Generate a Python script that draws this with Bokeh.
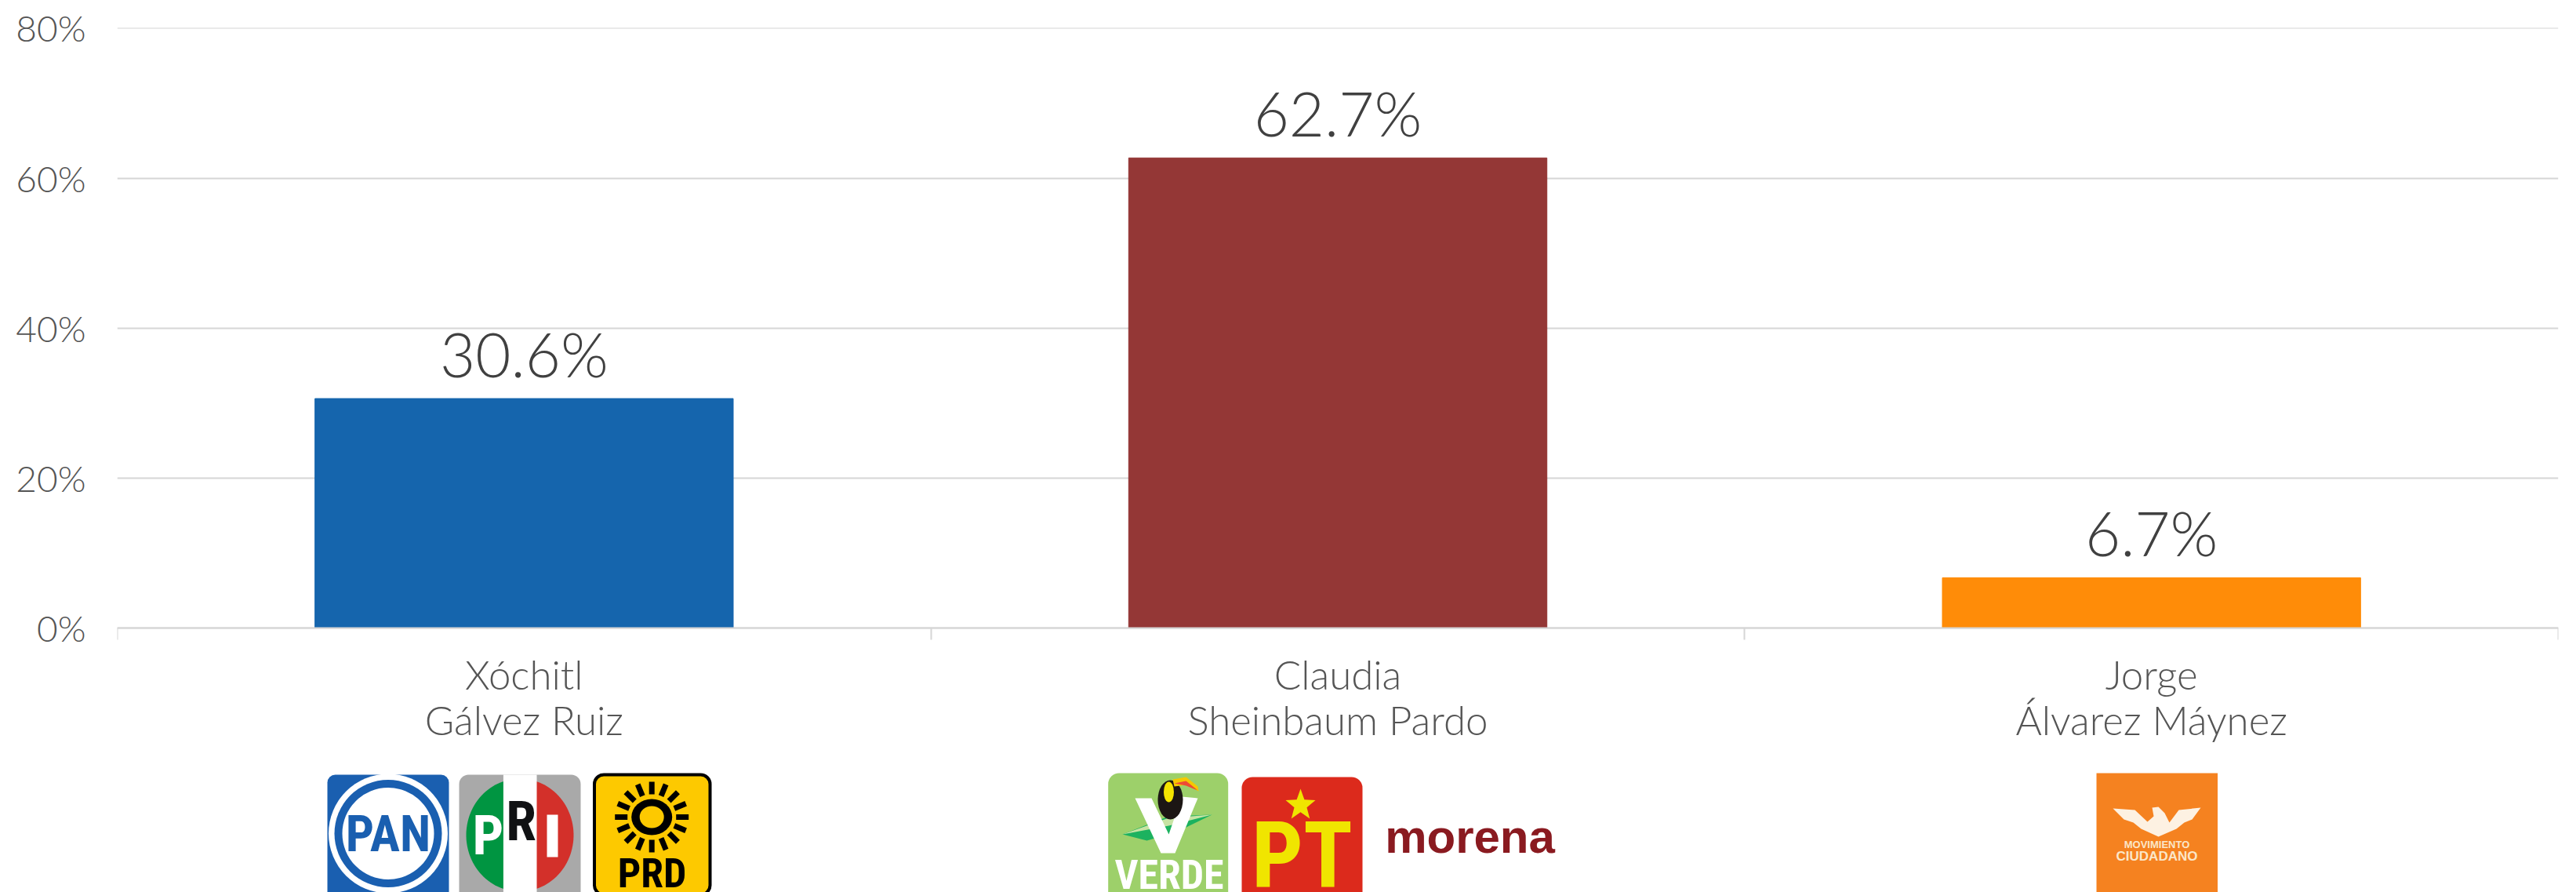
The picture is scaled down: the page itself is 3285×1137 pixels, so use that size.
import numpy as np
from bokeh.core.properties import value
from bokeh.embed import file_html
from bokeh.models import FixedTicker, Range1d
from bokeh.plotting import figure
from bokeh.resources import INLINE

candidates = ["Xóchitl\nGálvez Ruiz", "Claudia\nSheinbaum Pardo", "Jorge\nÁlvarez Máynez"]
shares = [30.6, 62.7, 6.7]
share_labels = ["30.6%", "62.7%", "6.7%"]
bar_colors = ["#1565ad", "#943736", "#ff8c08"]
y_ticks = [0, 20, 40, 60, 80]
y_tick_labels = {0: "0%", 20: "20%", 40: "40%", 60: "60%", 80: "80%"}

positions = [i + 0.5 for i in range(len(candidates))]
boundaries = list(range(len(candidates) + 1))

FONT = "Lato Light"
LOGO = "Liberation Sans"
COND = "Roboto Condensed"

p = figure(width=3285, height=1137, output_backend="svg", toolbar_location=None,
           x_range=Range1d(0, len(candidates)),
           y_range=Range1d(-35.27, 80.05),
           min_border_left=149, min_border_right=23, min_border_top=35, min_border_bottom=0,
           background_fill_color="white", border_fill_color="white", outline_line_color=None)
p.extra_x_ranges["px"] = Range1d(149, 3262)
p.extra_y_ranges["py"] = Range1d(1137, 35)

p.xgrid.visible = False
p.ygrid.ticker = FixedTicker(ticks=y_ticks)
p.ygrid.grid_line_color = "#d6d6d6"
p.ygrid.grid_line_width = 2

ya = p.yaxis[0]
ya.ticker = FixedTicker(ticks=y_ticks)
ya.major_label_overrides = y_tick_labels
ya.axis_line_color = None
ya.major_tick_line_color = None
ya.minor_tick_line_color = None
ya.major_label_standoff = 34
ya.major_label_text_font = FONT
ya.major_label_text_font_size = "46px"
ya.major_label_text_color = "#555555"

xa = p.xaxis[0]
xa.fixed_location = 0
xa.ticker = FixedTicker(ticks=positions, minor_ticks=boundaries)
xa.major_label_overrides = dict(zip(positions, candidates))
xa.axis_line_color = "#d6d6d6"
xa.axis_line_width = 2
xa.major_tick_line_color = None
xa.minor_tick_line_color = "#d6d6d6"
xa.minor_tick_line_width = 2
xa.minor_tick_in = 0
xa.minor_tick_out = 15
xa.major_label_standoff = 14
xa.major_label_text_font = FONT
xa.major_label_text_font_size = "51px"
xa.major_label_text_color = "#555555"
xa.major_label_text_line_height = 0.95
xa.major_label_orientation = "horizontal"

p.vbar(x=positions, top=shares, width=0.514, color=bar_colors)
p.text(x=positions, y=shares, text=share_labels, y_offset=-57, text_align="center",
       text_baseline="alphabetic", text_line_height=1.0, text_font=value(FONT), text_font_size="78px",
       text_color="#404040")

K = dict(x_range_name="px", y_range_name="py")


def box(l, r, t, b, color, radius=0, **kw):
    p.quad(left=[l], right=[r], top=[t], bottom=[b], fill_color=color, line_color=kw.pop("line", None),
           border_radius=radius, **K, **kw)


def oval(x, y, w, h, color, **kw):
    p.ellipse(x=[x], y=[y], width=[w], height=[h], fill_color=color, line_color=None, **K, **kw)


def poly(xs, ys, color):
    p.patch(x=list(xs), y=list(ys), fill_color=color, line_color=None, **K)


def label(x, y, s, size, color, font=COND):
    # y is the wanted baseline; the renderer sets alphabetic text about 0.37 em lower
    p.text(x=[x], y=[y - 0.37 * size], text=[s], text_align="center", text_baseline="alphabetic",
           text_line_height=1.0, text_font=value(font), text_font_style="bold", text_font_size=f"{size}px",
           text_color=color, **K)


# PAN
box(417, 572, 987, 1160, "#1a5fb0", 10)
oval(494.5, 1062, 152, 152, "white")
oval(494.5, 1062, 137, 137, "#1a5fb0")
oval(494.5, 1062, 117, 117, "white")
label(494.5, 1087, "PAN", 64, "#1a5fb0")

# PRI
box(585, 740, 987, 1160, "#a9a9a9", 12)
t = np.linspace(-np.pi / 2, np.pi / 2, 60)
poly(662.5 - 68.5 * np.cos(t), 1064 + 72 * np.sin(t), "#009541")
poly(662.5 + 68.5 * np.cos(t), 1064 + 72 * np.sin(t), "#d3302a")
box(641.4, 684, 987, 1160, "white")
label(622, 1090, "P", 70, "white")
label(664, 1072, "R", 70, "#111214")
box(697, 711, 1038, 1092, "white")

# PRD
box(757.5, 905, 987, 1140, "#fdc900", 12, line="black", line_width=4)
a = np.arange(16) * np.pi / 8
p.segment(x0=830.7 + 31 * np.cos(a), x1=830.7 + 47 * np.cos(a),
          y0=1041 + 29 * np.sin(a), y1=1041 + 45 * np.sin(a),
          line_color="black", line_width=7, **K)
oval(830.7, 1041, 52, 46, "black")
oval(830.7, 1041, 31, 28, "#fdc900")
label(831, 1132, "PRD", 52, "black")

# VERDE
box(1412.7, 1565.7, 985, 1160, "#9dd06a", 14)
poly([1431, 1490, 1545, 1500, 1462], [1063, 1040, 1038, 1060, 1071], "#1cb25f")
poly([1431, 1490, 1545, 1490], [1063, 1042, 1038, 1052], "#c7e3a3")
poly([1447, 1468, 1490, 1506.5, 1527, 1498, 1480], [1017, 1017, 1063, 1015, 1017, 1087, 1087], "white")
oval(1492, 1019, 32, 50, "#1c1614")
oval(1490, 1009, 13, 26, "#f5e400")
poly([1495, 1512, 1527, 1528, 1512, 1497], [993, 990, 1002, 1008, 1000, 1002], "#f5c800")
poly([1497, 1512, 1527, 1512], [998, 995, 1007, 1001], "#ee4b35")
label(1490.5, 1134, "VERDE", 52, "white")

# PT
box(1583, 1737, 990, 1160, "#dc2a1c", 14)
s = np.arange(10) * np.pi / 5 - np.pi / 2
r = np.where(np.arange(10) % 2 == 0, 1.0, 0.42)
poly(1658 + 20 * r * np.cos(s), 1026 + 21 * r * np.sin(s), "#f0e500")
label(1660, 1132, "PT", 116, "#f0e500")

# morena
label(1874, 1088, "morena", 60, "#8a1a20", font=LOGO)

# Movimiento Ciudadano
box(2673, 2827.5, 985, 1160, "#f58220")
poly([2694, 2722, 2738, 2746, 2744, 2752, 2760, 2766, 2778, 2806, 2795, 2785, 2775, 2752, 2730, 2720, 2708],
     [1030, 1032, 1047, 1040, 1029, 1028, 1036, 1048, 1032, 1029, 1044, 1048, 1056, 1066, 1056, 1048, 1044],
     "#fdf1e2")
label(2750, 1081, "MOVIMIENTO", 13, "#fbe6c8", font=LOGO)
label(2750, 1097, "CIUDADANO", 17, "#fbe6c8", font=LOGO)

open("out.html", "w").write(file_html(p, INLINE))
